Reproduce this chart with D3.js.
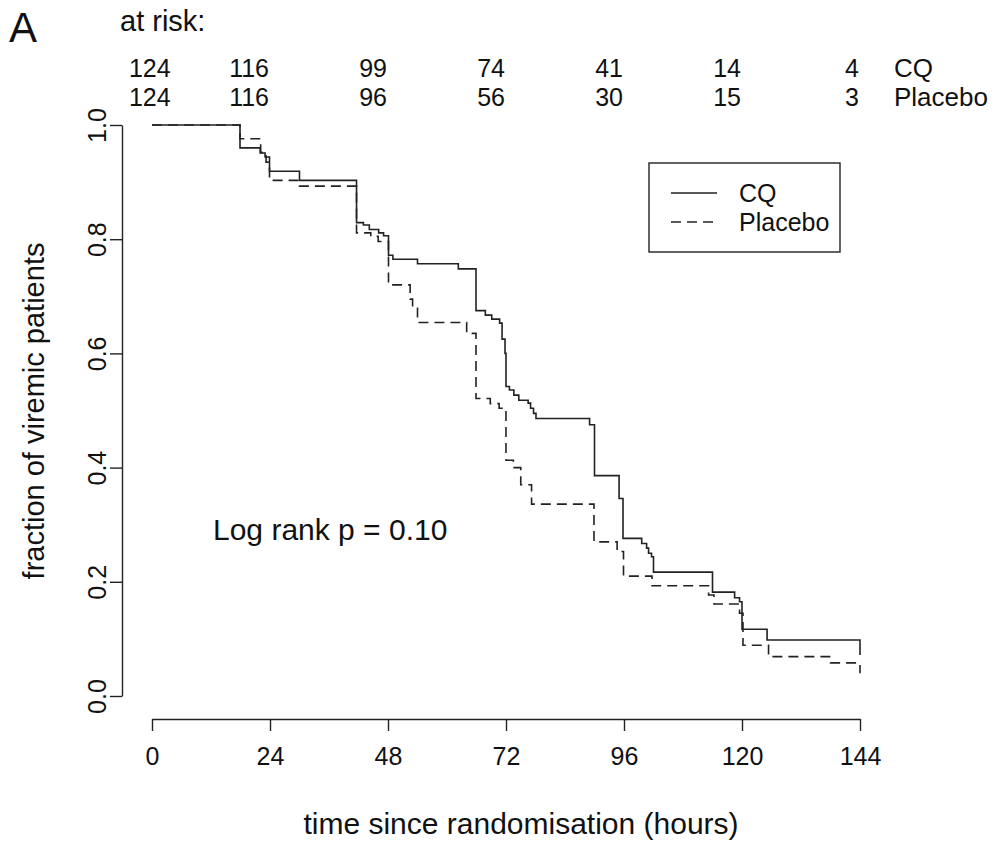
<!DOCTYPE html>
<html>
<head>
<meta charset="utf-8">
<script src="https://cdn.jsdelivr.net/npm/d3@7"></script>
<style>
  html, body { margin: 0; padding: 0; background: #fff; }
  svg { display: block; font-family: "Liberation Sans", Arial, sans-serif; }
</style>
</head>
<body>
<div id="chart"></div>
<script>
// Kaplan-Meier step data (time in hours, fraction still viremic)
const cqTimes = [0, 17.9, 22, 23, 23.9, 30, 41.6, 43, 44.2, 46.1, 47.1, 48.1, 49, 54, 62.3, 65.9, 67.8, 69.1, 70.7, 71.2, 71.8, 72, 72.7, 73.6, 74.6, 76.5, 77, 77.6, 78.1, 89, 90, 95, 95.8, 99.6, 100.6, 101, 101.6, 102, 114, 118.5, 119.5, 120, 125.1, 144];
const cqSurv  = [1, 0.960, 0.951, 0.944, 0.919, 0.903, 0.829, 0.825, 0.817, 0.811, 0.806, 0.772, 0.765, 0.757, 0.748, 0.675, 0.667, 0.660, 0.653, 0.625, 0.600, 0.542, 0.536, 0.527, 0.518, 0.513, 0.504, 0.495, 0.486, 0.475, 0.386, 0.346, 0.276, 0.267, 0.259, 0.250, 0.244, 0.217, 0.182, 0.172, 0.165, 0.117, 0.098, 0.072];

const plTimes = [0, 17.9, 22.1, 23.2, 23.9, 30, 41.6, 44.5, 46, 48.1, 52.5, 53, 54, 64, 65.9, 68.8, 70.6, 72, 73.5, 75, 77.2, 89.9, 94.6, 95.9, 101.7, 113.2, 114.3, 119.5, 120.2, 125.4, 138, 144];
const plSurv  = [1, 0.976, 0.952, 0.935, 0.903, 0.893, 0.811, 0.805, 0.796, 0.720, 0.695, 0.679, 0.654, 0.635, 0.521, 0.512, 0.504, 0.413, 0.400, 0.370, 0.336, 0.270, 0.253, 0.210, 0.193, 0.177, 0.161, 0.145, 0.089, 0.069, 0.058, 0.040];

const xTicks = [0, 24, 48, 72, 96, 120, 144];
const yTicks = [0, 0.2, 0.4, 0.6, 0.8, 1.0];

const atRiskTimes = [4, 24, 48, 72, 96, 120, 144];
const atRiskCQ = [124, 116, 99, 74, 41, 14, 4];
const atRiskPlacebo = [124, 116, 96, 56, 30, 15, 3];

const groupNames = ["CQ", "Placebo"];

const width = 1001, height = 845;
const ink = "#222";
const fontSize = 25;

const svg = d3.select("#chart")
    .append("svg")
    .attr("width", width)
    .attr("height", height);

const xScale = d3.scaleLinear().domain([0, 144]).range([152, 860]);
const yScale = d3.scaleLinear().domain([0, 1]).range([696, 125]);

// axes, drawn offset from the plot area like base R
const xAxis = svg.append("g")
    .attr("transform", "translate(0,719)")
    .call(d3.axisBottom(xScale).tickValues(xTicks).tickSize(12).tickPadding(16).tickSizeOuter(0));
const yAxis = svg.append("g")
    .attr("transform", "translate(122,0)")
    .call(d3.axisLeft(yScale).tickValues(yTicks).tickSize(12).tickSizeOuter(0).tickFormat(d3.format(".1f")));

[xAxis, yAxis].forEach(ax => {
    ax.select(".domain").attr("stroke", ink).attr("stroke-width", 1.4);
    ax.selectAll(".tick line").attr("stroke", ink).attr("stroke-width", 1.4);
    ax.selectAll("text")
        .attr("fill", "#111")
        .style("font-size", fontSize + "px")
        .style("font-family", "'Liberation Sans', Arial, sans-serif");
});

// rotate y tick labels like R (las = 0)
yAxis.selectAll(".tick text")
    .attr("x", null).attr("dy", null)
    .attr("text-anchor", "middle")
    .attr("transform", "translate(-16,0) rotate(-90)");

// axis titles
svg.append("text")
    .attr("x", 521)
    .attr("y", 834)
    .attr("text-anchor", "middle")
    .attr("fill", "#111")
    .style("font-size", "30px")
    .text("time since randomisation (hours)");

svg.append("text")
    .attr("transform", "translate(44,411) rotate(-90)")
    .attr("text-anchor", "middle")
    .attr("fill", "#111")
    .style("font-size", "29px")
    .text("fraction of viremic patients");

// survival curves
const line = d3.line()
    .x(d => xScale(d[0]))
    .y(d => yScale(d[1]))
    .curve(d3.curveStepAfter);

const cqPts = cqTimes.map((t, i) => [t, cqSurv[i]]);
const plPts = plTimes.map((t, i) => [t, plSurv[i]]);

svg.append("path")
    .datum(plPts)
    .attr("d", line)
    .attr("fill", "none")
    .attr("stroke", ink)
    .attr("stroke-width", 1.6)
    .attr("stroke-dasharray", "10,6");

svg.append("path")
    .datum(cqPts)
    .attr("d", line)
    .attr("fill", "none")
    .attr("stroke", ink)
    .attr("stroke-width", 1.6);

// legend
const legend = svg.append("g");
legend.append("rect")
    .attr("x", 649).attr("y", 163)
    .attr("width", 191).attr("height", 89)
    .attr("fill", "none")
    .attr("stroke", ink)
    .attr("stroke-width", 1.4);

groupNames.forEach((name, i) => {
    const y = 193 + i * 29;
    legend.append("line")
        .attr("x1", 671).attr("x2", 717)
        .attr("y1", y).attr("y2", y)
        .attr("stroke", ink)
        .attr("stroke-width", 1.6)
        .attr("stroke-dasharray", i === 0 ? null : "10,6");
    legend.append("text")
        .attr("x", 739)
        .attr("y", y + 9)
        .attr("fill", "#111")
        .style("font-size", fontSize + "px")
        .text(name);
});

// log rank annotation
svg.append("text")
    .attr("x", 213)
    .attr("y", 540)
    .attr("fill", "#111")
    .style("font-size", "30px")
    .text("Log rank p = 0.10");

// panel letter and at-risk table
svg.append("text")
    .attr("x", 9).attr("y", 42)
    .attr("fill", "#111")
    .style("font-size", "42px")
    .text("A");

svg.append("text")
    .attr("x", 120).attr("y", 31)
    .attr("fill", "#111")
    .style("font-size", "29px")
    .text("at risk:");

[atRiskCQ, atRiskPlacebo].forEach((row, r) => {
    const y = 77 + r * 29;
    svg.append("g")
        .selectAll("text")
        .data(row)
        .join("text")
        .attr("x", (d, i) => xScale(atRiskTimes[i]) - 1)
        .attr("y", y)
        .attr("text-anchor", "end")
        .attr("fill", "#111")
        .style("font-size", fontSize + "px")
        .text(d => d);
    svg.append("text")
        .attr("x", 894)
        .attr("y", y)
        .attr("fill", "#111")
        .style("font-size", "26px")
        .text(groupNames[r]);
});
</script>
</body>
</html>
